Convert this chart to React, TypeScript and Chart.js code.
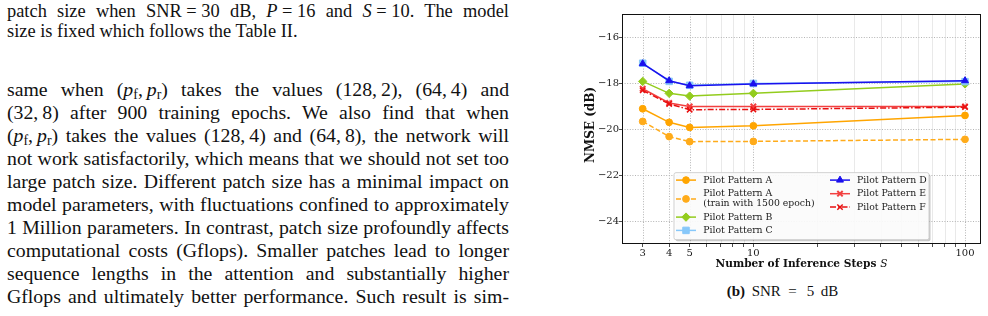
import React, { useEffect, useRef } from "react";
import { Chart, registerables } from "chart.js";
import { drawPoint } from "chart.js/helpers";

Chart.register(...registerables);

// Inference steps on the (log) x axis
const steps = [3, 4, 5, 10, 100];

// NMSE (dB) for each pilot pattern
const patternA = [-19.12, -19.71, -19.93, -19.86, -19.41];
const patternA1500 = [-19.67, -20.33, -20.55, -20.54, -20.45];
const patternB = [-17.93, -18.45, -18.57, -18.45, -18.04];
const patternC = [-17.14, -17.93, -18.1, -18.02, -17.94];
const patternD = [-17.16, -17.9, -18.12, -18.04, -17.9];
const patternE = [-18.25, -18.87, -19.02, -19.02, -19.02];
const patternF = [-18.32, -18.91, -19.16, -19.15, -19.05];

// Axis ticks
const xGridValues = [3, 4, 5, 6, 7, 8, 9, 10, 20, 30, 40, 50, 60, 70, 80, 90, 100];
const xTickLabels = [3, 4, 5, 10, 100];
const yTicks = [-24, -22, -20, -18, -16];

type Series = {
  legend: string[];
  data: number[];
  color: string;
  dash: number[];
  pointStyle: string;
  radius: number;
  pointBorder: number;
};

const series: Series[] = [
  { legend: ["Pilot Pattern A"], data: patternA, color: "#ffa500", dash: [], pointStyle: "circle", radius: 3.4, pointBorder: 1 },
  { legend: ["Pilot Pattern A", "(train with 1500 epoch)"], data: patternA1500, color: "#ffab1a", dash: [5, 2.5], pointStyle: "circle", radius: 3.4, pointBorder: 1 },
  { legend: ["Pilot Pattern B"], data: patternB, color: "#93cc1d", dash: [], pointStyle: "rectRot", radius: 4.2, pointBorder: 1 },
  { legend: ["Pilot Pattern C"], data: patternC, color: "#87c8fa", dash: [], pointStyle: "rect", radius: 4.6, pointBorder: 1 },
  { legend: ["Pilot Pattern D"], data: patternD, color: "#1a10ee", dash: [], pointStyle: "triangle", radius: 4, pointBorder: 1 },
  { legend: ["Pilot Pattern E"], data: patternE, color: "#f24040", dash: [], pointStyle: "crossRot", radius: 3.8, pointBorder: 2 },
  { legend: ["Pilot Pattern F"], data: patternF, color: "#e81010", dash: [6, 2, 1.5, 2], pointStyle: "crossRot", radius: 3.8, pointBorder: 1.5 },
];

// legend slots: column and row y offsets inside the legend box
const legendSlots = [
  { col: 0, rows: [7.4], handle: 7.4 },
  { col: 0, rows: [21, 31], handle: 26.2 },
  { col: 0, rows: [44.4], handle: 44.4 },
  { col: 0, rows: [57.7], handle: 57.7 },
  { col: 1, rows: [7.4], handle: 7.4 },
  { col: 1, rows: [21], handle: 21 },
  { col: 1, rows: [34.4], handle: 34.4 },
];
const legendCols = [
  { h0: 2, h1: 22, text: 29.3 },
  { h0: 156, h1: 176, text: 183 },
];

const TEXT = "#1a1a1a";
const SERIF = '"DejaVu Serif"';

const figurePlugin = {
  id: "figurePlugin",
  beforeDatasetsDraw(chart: any) {
    const { ctx, chartArea: a, scales } = chart;
    const x = scales.x;
    const y = scales.y;
    ctx.save();
    ctx.beginPath();
    ctx.rect(a.left, a.top, a.right - a.left, a.bottom - a.top);
    ctx.clip();
    ctx.lineWidth = 1;
    for (const v of xGridValues) {
      const px = Math.round(x.getPixelForValue(v)) + 0.5;
      const major = xTickLabels.includes(v);
      ctx.strokeStyle = major ? "#b4b4b4" : "#e9e9e9";
      ctx.setLineDash(major ? [1, 1.6] : []);
      ctx.beginPath();
      ctx.moveTo(px, a.top);
      ctx.lineTo(px, a.bottom);
      ctx.stroke();
    }
    ctx.strokeStyle = "#b4b4b4";
    ctx.setLineDash([1, 1.6]);
    for (const v of yTicks) {
      const py = Math.round(y.getPixelForValue(v)) + 0.5;
      ctx.beginPath();
      ctx.moveTo(a.left, py);
      ctx.lineTo(a.right, py);
      ctx.stroke();
    }
    ctx.restore();
  },
  afterDatasetsDraw(chart: any) {
    const { ctx, chartArea: a } = chart;
    ctx.save();
    // axes frame
    ctx.setLineDash([]);
    ctx.strokeStyle = "#111";
    ctx.lineWidth = 1;
    ctx.strokeRect(a.left + 0.5, a.top + 0.5, a.right - a.left - 1, a.bottom - a.top - 1);

    // legend box, lower centre
    const lw = 255;
    const lh = 67;
    const lx = (a.left + a.right) / 2 - lw / 2;
    const ly = a.bottom - 4.3 - lh;
    ctx.fillStyle = "rgba(0,0,0,0.22)";
    ctx.beginPath();
    ctx.roundRect(lx + 1.5, ly + 1.5, lw, lh, 2);
    ctx.fill();
    ctx.fillStyle = "rgba(255,255,255,0.92)";
    ctx.beginPath();
    ctx.roundRect(lx, ly, lw, lh, 2);
    ctx.fill();
    ctx.strokeStyle = "#cfcfcf";
    ctx.lineWidth = 1;
    ctx.stroke();

    ctx.font = `9.3px ${SERIF}`;
    ctx.textBaseline = "middle";
    ctx.textAlign = "left";
    series.forEach((s, i) => {
      const slot = legendSlots[i];
      const col = legendCols[slot.col];
      const hy = ly + slot.handle;
      ctx.strokeStyle = s.color;
      ctx.lineWidth = 1.5;
      ctx.setLineDash(s.dash);
      ctx.beginPath();
      ctx.moveTo(lx + col.h0, hy);
      ctx.lineTo(lx + col.h1, hy);
      ctx.stroke();
      ctx.setLineDash([]);
      ctx.fillStyle = s.color;
      ctx.lineWidth = s.pointBorder;
      drawPoint(ctx, { pointStyle: s.pointStyle as any, rotation: 0, radius: s.radius, borderWidth: s.pointBorder } as any, lx + (col.h0 + col.h1) / 2, hy);
      ctx.fillStyle = TEXT;
      s.legend.forEach((t, k) => ctx.fillText(t, lx + col.text, ly + slot.rows[k]));
    });
    ctx.restore();
  },
  afterDraw(chart: any) {
    const { ctx, chartArea: a } = chart;
    ctx.save();
    ctx.fillStyle = "#111";
    ctx.textBaseline = "middle";
    // x axis title with italic S
    const boldFont = `bold 10.6px ${SERIF}`;
    const italFont = `italic 10.6px ${SERIF}`;
    const part1 = "Number of Inference Steps ";
    const part2 = "S";
    ctx.font = boldFont;
    const w1 = ctx.measureText(part1).width;
    ctx.font = italFont;
    const w2 = ctx.measureText(part2).width;
    const cx = (a.left + a.right) / 2;
    const start = cx - (w1 + w2) / 2;
    ctx.textAlign = "left";
    ctx.font = boldFont;
    ctx.fillText(part1, start, 264);
    ctx.font = italFont;
    ctx.fillText(part2, start + w1, 264);
    // y axis title
    ctx.translate(13, 125);
    ctx.rotate(-Math.PI / 2);
    ctx.textAlign = "center";
    ctx.font = `bold 12px ${SERIF}`;
    ctx.fillText("NMSE (dB)", 0, 0);
    ctx.restore();
  },
};

function NmseChart() {
  const ref = useRef<HTMLCanvasElement | null>(null);
  useEffect(() => {
    if (!ref.current) return;
    const chart = new Chart(ref.current, {
      type: "line",
      data: {
        datasets: series.map((s, i) => ({
          label: s.legend.join(" "),
          data: steps.map((v, k) => ({ x: v, y: s.data[k] })),
          // later series are painted over earlier ones
          order: series.length - i,
          borderColor: s.color,
          backgroundColor: s.color,
          borderWidth: 1.5,
          borderDash: s.dash,
          pointStyle: s.pointStyle as any,
          pointRadius: s.radius,
          pointBorderWidth: s.pointBorder,
          pointBackgroundColor: s.color,
          pointBorderColor: s.color,
          tension: 0,
          fill: false,
        })),
      },
      options: {
        animation: false,
        responsive: false,
        devicePixelRatio: 1,
        layout: { padding: { left: 0, right: 7, top: 14, bottom: 0 } },
        plugins: { legend: { display: false }, tooltip: { enabled: false } },
        scales: {
          x: {
            type: "logarithmic",
            min: 2.395,
            max: 119,
            bounds: "data",
            afterBuildTicks: (s: any) => {
              s.ticks = xGridValues.map((v) => ({ value: v }));
            },
            afterFit: (s: any) => {
              s.height = 31;
            },
            ticks: {
              autoSkip: false,
              maxRotation: 0,
              minRotation: 0,
              padding: 0,
              color: TEXT,
              font: { family: "DejaVu Serif", size: 10 },
              callback: (v: any) => (xTickLabels.includes(Number(v)) ? String(v) : ""),
            },
            grid: { drawOnChartArea: false, drawTicks: true, tickLength: 3, color: "#222", lineWidth: 0.8 },
            border: { display: false },
          },
          y: {
            type: "linear",
            min: -25,
            max: -15,
            bounds: "data",
            afterBuildTicks: (s: any) => {
              s.ticks = yTicks.map((v) => ({ value: v }));
            },
            afterFit: (s: any) => {
              s.width = 44;
            },
            ticks: {
              padding: 0,
              color: TEXT,
              font: { family: "DejaVu Serif", size: 10 },
              callback: (v: any) => String(v).replace("-", "\u2212"),
            },
            grid: { drawOnChartArea: false, drawTicks: true, tickLength: 3, color: "#222", lineWidth: 0.8 },
            border: { display: false },
          },
        },
      } as any,
      plugins: [figurePlugin],
    });
    return () => chart.destroy();
  }, []);
  return <canvas ref={ref} width={410} height={275} style={{ position: "absolute", left: 578, top: 0, width: 410, height: 275 }} />;
}

const sub = (t: string) => (
  <span style={{ fontSize: "0.7em", position: "relative", top: "0.28em", lineHeight: 0 }}>{t}</span>
);
const pf = (
  <>
    <i>p</i>
    {sub("f")}
  </>
);
const pr = (
  <>
    <i>p</i>
    {sub("r")}
  </>
);
const T = "\u2005"; // math spacing (does not stretch when justified)

const bodyLines: React.ReactNode[] = [
  <>same when ({pf},{"\u2009"}{pr}) takes the values (128,{"\u2009"}2), (64,{"\u2009"}4) and</>,
  <>(32,{"\u2009"}8) after 900 training epochs. We also find that when</>,
  <>({pf},{"\u2009"}{pr}) takes the values (128,{"\u2009"}4) and (64,{"\u2009"}8), the network will</>,
  <>not work satisfactorily, which means that we should not set too</>,
  <>large patch size. Different patch size has a minimal impact on</>,
  <>model parameters, with fluctuations confined to approximately</>,
  <>1 Million parameters. In contrast, patch size profoundly affects</>,
  <>computational costs (Gflops). Smaller patches lead to longer</>,
  <>sequence lengths in the attention and substantially higher</>,
  <>Gflops and ultimately better performance. Such result is sim-</>,
];

const lineStyle = (top: number, size: number, lh: number, justify: boolean): React.CSSProperties => ({
  position: "absolute",
  left: 7,
  top,
  width: 502,
  fontFamily: '"Liberation Serif", serif',
  fontSize: size,
  lineHeight: `${lh}px`,
  whiteSpace: "nowrap",
  textAlign: justify ? "justify" : "left",
  textAlignLast: justify ? "justify" : "left",
  color: "#111",
});

export default function App() {
  return (
    <div style={{ position: "absolute", left: 0, top: 0, width: 988, height: 316, overflow: "hidden", background: "#fff" }}>
      <div style={lineStyle(0.5, 18.4, 20, true)}>
        patch size when SNR{T}={T}30 dB, <i>P</i>{T}={T}16 and <i>S</i>{T}={T}10. The model
      </div>
      <div style={lineStyle(20.5, 18.4, 20, false)}>size is fixed which follows the Table II.</div>
      {bodyLines.map((l, i) => (
        <div key={i} style={lineStyle(77.5 + i * 23, 19.8, 23, true)}>
          {l}
        </div>
      ))}
      <NmseChart />
      <div style={{ position: "absolute", left: 0, top: 284, width: 988, height: 20, fontFamily: '"Liberation Serif", serif', fontSize: 15, lineHeight: "15px", color: "#111" }}>
        <span style={{ position: "absolute", left: 726.7, fontWeight: "bold" }}>(b)</span>
        <span style={{ position: "absolute", left: 751.7 }}>SNR</span>
        <span style={{ position: "absolute", left: 788.3 }}>=</span>
        <span style={{ position: "absolute", left: 806.7 }}>5</span>
        <span style={{ position: "absolute", left: 820.7 }}>dB</span>
      </div>
    </div>
  );
}
